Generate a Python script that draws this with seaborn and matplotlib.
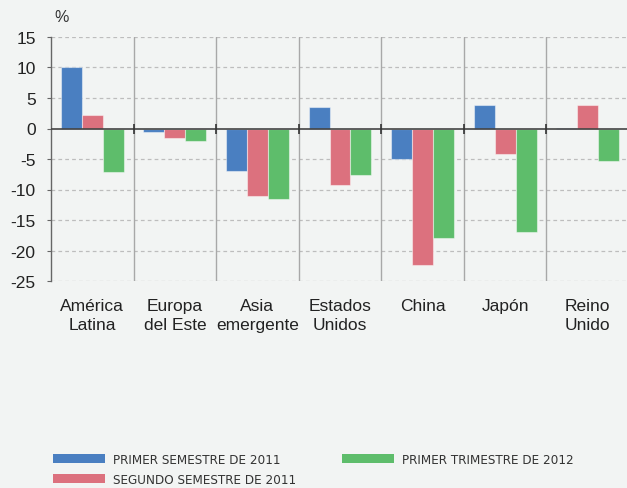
import matplotlib
matplotlib.use("Agg")
import matplotlib.pyplot as plt
import seaborn as sns
import pandas as pd
from matplotlib.patches import Patch
from matplotlib import font_manager as fm

categories = ["América\nLatina", "Europa\ndel Este", "Asia\nemergente", "Estados\nUnidos",
              "China", "Japón", "Reino\nUnido"]
series_names = ["PRIMER SEMESTRE DE 2011", "SEGUNDO SEMESTRE DE 2011", "PRIMER TRIMESTRE DE 2012"]
primer_sem_2011 = [10.0, -0.6, -6.9, 3.5, -5.0, 3.9, 0.1]
segundo_sem_2011 = [2.2, -1.6, -11.0, -9.2, -22.4, -4.2, 3.9]
primer_tri_2012 = [-7.1, -2.1, -11.6, -7.7, -17.9, -17.0, -5.4]
yticks = [15, 10, 5, 0, -5, -10, -15, -20, -25]

colors = ["#4a7fc1", "#dc717e", "#5ebd6b"]
bg = "#f2f4f3"

rows = []
for vals, name in zip([primer_sem_2011, segundo_sem_2011, primer_tri_2012], series_names):
    for c, v in zip(categories, vals):
        rows.append({"cat": c, "serie": name, "valor": v})
df = pd.DataFrame(rows)

sns.set_style("white")
plt.rcParams["font.family"] = ["Liberation Sans", "DejaVu Sans"]

# condensed font for the legend if available
cond = fm.FontProperties(family="DejaVu Sans", stretch="condensed")
path = fm.findfont(cond, fallback_to_default=True)
if "Condensed" in path:
    leg_prop = fm.FontProperties(fname=path, size=9.6)
else:
    leg_prop = fm.FontProperties(family="Liberation Sans", size=8.8)

fig = plt.figure(figsize=(6.27, 4.89), dpi=100, facecolor=bg)
ax = fig.add_axes([51 / 627, 1 - 282 / 489, 578 / 627, 244 / 489])
ax.set_facecolor(bg)

sns.barplot(data=df, x="cat", y="valor", hue="serie", order=categories,
            hue_order=series_names, palette=colors, saturation=1, width=0.76, gap=0,
            edgecolor=(1, 1, 1, 0.45), linewidth=0.8, legend=False, ax=ax, zorder=3)

ax.set_xlim(-0.5, len(categories) - 0.5)
ax.set_ylim(-25, 15)
ax.set_yticks(yticks)
ax.set_yticklabels([str(t) for t in yticks], fontsize=12.5, color="#222222")

# grid
for t in yticks:
    if t != 0:
        ax.axhline(t, color="#bdbdbd", lw=0.9, ls=(0, (3, 2.5)), zorder=1)
for i in range(len(categories) - 1):
    ax.axvline(i + 0.5, color="#a8a8a8", lw=1.0, zorder=1)
ax.axhline(0, color="#444444", lw=1.2, zorder=4)
ax.plot([i + 0.5 for i in range(len(categories) - 1)], [0] * (len(categories) - 1),
        ls="none", marker="|", ms=7, mew=1.2, color="#333333", zorder=5)

for s in ["top", "right", "bottom"]:
    ax.spines[s].set_visible(False)
ax.spines["left"].set_color("#666666")
ax.spines["left"].set_linewidth(1.0)
ax.tick_params(axis="y", length=3, width=0.8, color="#666666", pad=8, left=True)
ax.tick_params(axis="x", length=0, pad=12, labelsize=12.5, labelcolor="#222222")
for lab in ax.get_xticklabels():
    lab.set_linespacing(1.4)
ax.set_xlabel("")
ax.set_ylabel("")
fig.text(62 / 627, 1 - 18 / 489, "%", fontsize=11.5, color="#333333", ha="center", va="center")

handles = [Patch(facecolor=c, edgecolor="none") for c in colors]
leg = fig.legend(handles, series_names, ncol=2, loc="upper left",
                 bbox_to_anchor=(53 / 627, 1 - 454 / 489), frameon=False,
                 prop=leg_prop, borderaxespad=0, borderpad=0,
                 handlelength=3.9, handleheight=0.7, handletextpad=0.6,
                 columnspacing=3.45, labelspacing=0.55, labelcolor="#333333")

fig.savefig("out.png", dpi=100, facecolor=bg)
